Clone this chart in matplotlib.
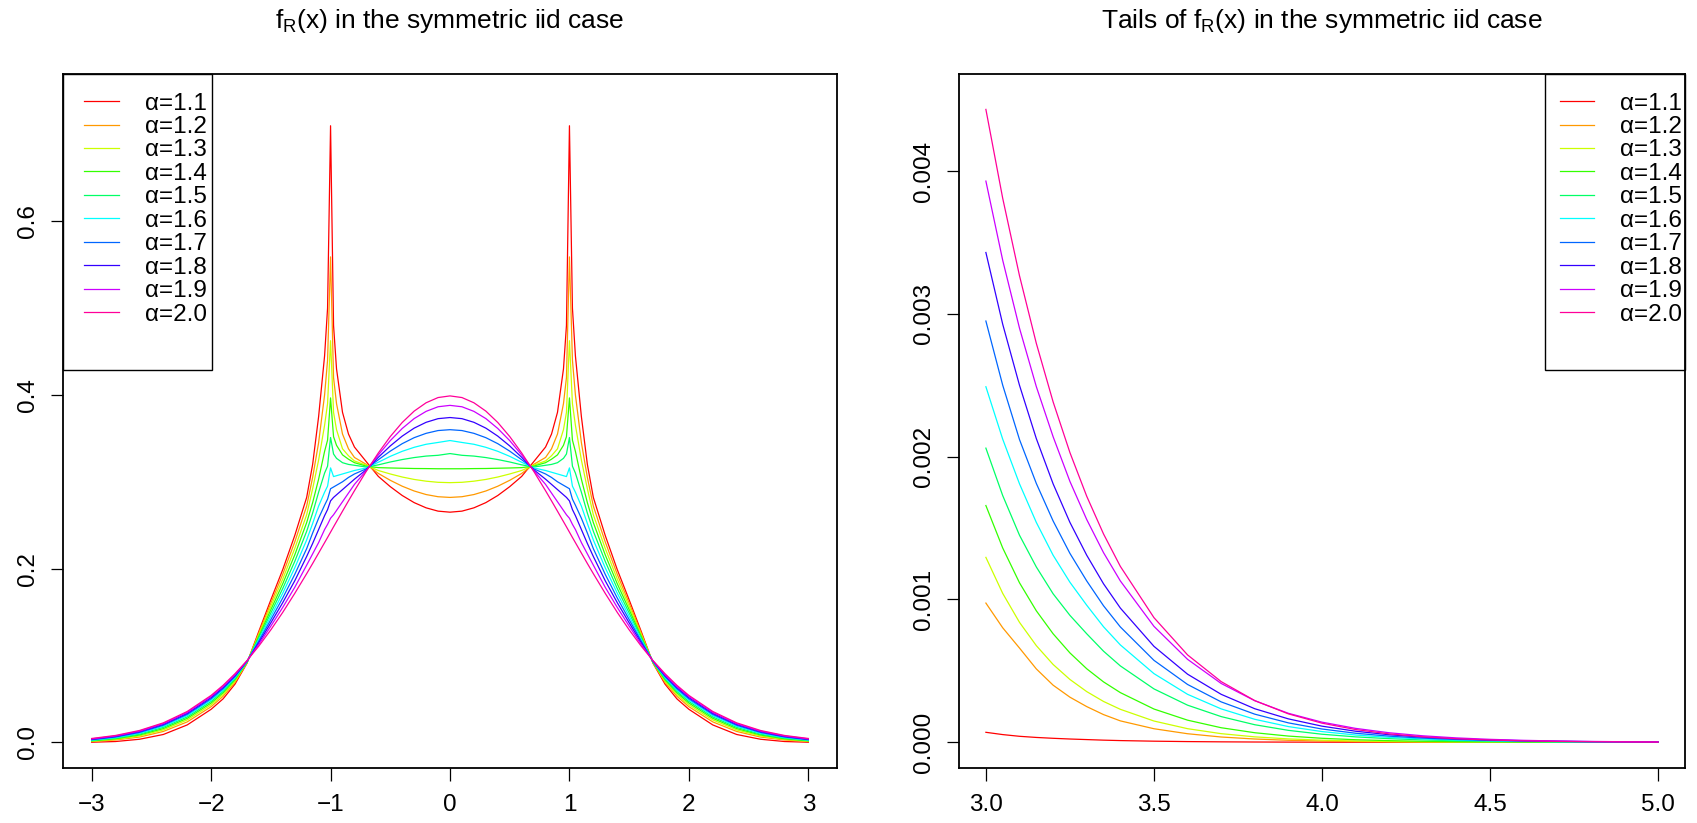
import matplotlib
matplotlib.use("Agg")
import matplotlib.pyplot as plt
from matplotlib.patches import Rectangle

plt.rcParams['font.family'] = ['Liberation Sans', 'DejaVu Sans']
plt.rcParams['mathtext.fontset'] = 'custom'
plt.rcParams['mathtext.rm'] = 'Liberation Sans'
plt.rcParams['mathtext.it'] = 'Liberation Sans'

# alpha values and R rainbow(10) colours
alphas = ["1.1", "1.2", "1.3", "1.4", "1.5", "1.6", "1.7", "1.8", "1.9", "2.0"]
cores = ["#FF0000", "#FF9900", "#CCFF00", "#33FF00", "#00FF66",
         "#00FFFF", "#0066FF", "#3300FF", "#CC00FF", "#FF0099"]

# left panel: x >= 0 (curves are symmetric, mirrored below)
xs = [0, 0.1, 0.2, 0.3, 0.4, 0.5, 0.6, 0.7, 0.8, 0.85, 0.9, 0.95, 0.975, 1.0,
      1.025, 1.05, 1.1, 1.15, 1.2, 1.3, 1.4, 1.5, 1.6, 1.7, 1.8, 1.9, 2.0,
      2.2, 2.4, 2.6, 2.8, 3.0]

f11 = [0.265, 0.2662, 0.2700, 0.2760, 0.2842, 0.2944, 0.3062, 0.323, 0.340, 0.355, 0.380, 0.430, 0.480, 0.710,
       0.500, 0.445, 0.375, 0.320, 0.282, 0.238, 0.199, 0.164, 0.128, 0.091, 0.067, 0.050, 0.038,
       0.020, 0.009, 0.0035, 0.0009, 0.00007]
f12 = [0.282, 0.2828, 0.2853, 0.2894, 0.2949, 0.3017, 0.3096, 0.320, 0.328, 0.338, 0.355, 0.390, 0.420, 0.559,
       0.440, 0.400, 0.345, 0.305, 0.272, 0.2306, 0.1936, 0.1602, 0.1261, 0.0913, 0.069, 0.053, 0.041,
       0.0235, 0.0125, 0.006, 0.0027, 0.000975]
f13 = [0.299, 0.2994, 0.3007, 0.3027, 0.3055, 0.3090, 0.3130, 0.319, 0.324, 0.330, 0.338, 0.360, 0.380, 0.4625,
       0.390, 0.365, 0.325, 0.292, 0.262, 0.2231, 0.1881, 0.1565, 0.1242, 0.0917, 0.0705, 0.0550, 0.0432,
       0.0258, 0.0143, 0.0073, 0.0033, 0.0013]
f14 = [0.315, 0.315, 0.3152, 0.3153, 0.3156, 0.3159, 0.3163, 0.318, 0.322, 0.326, 0.331, 0.342, 0.352, 0.3966,
       0.348, 0.335, 0.303, 0.276, 0.253, 0.2157, 0.1827, 0.1527, 0.1223, 0.092, 0.072, 0.057, 0.0452,
       0.0276, 0.0158, 0.0084, 0.0040, 0.00166]
f15 = [0.3325, 0.3305, 0.3296, 0.3279, 0.3256, 0.3228, 0.3195, 0.317, 0.319, 0.320, 0.322, 0.327, 0.332, 0.351,
       0.318, 0.310, 0.288, 0.264, 0.243, 0.2082, 0.1772, 0.1489, 0.1204, 0.0923, 0.0732, 0.0586, 0.0470,
       0.0292, 0.0172, 0.0094, 0.0047, 0.00206]
f16 = [0.3475, 0.3453, 0.3432, 0.3397, 0.3351, 0.3293, 0.3225, 0.316, 0.313, 0.311, 0.309, 0.307, 0.306, 0.316,
       0.295, 0.288, 0.272, 0.252, 0.233, 0.2008, 0.1718, 0.1451, 0.1186, 0.0927, 0.0745, 0.0602, 0.0486,
       0.0307, 0.0184, 0.0104, 0.0054, 0.00249]
f17 = [0.360, 0.3590, 0.3558, 0.3508, 0.3439, 0.3353, 0.3254, 0.315, 0.309, 0.305, 0.300, 0.296, 0.294, 0.292,
       0.280, 0.273, 0.258, 0.241, 0.223, 0.1933, 0.1663, 0.1413, 0.1167, 0.093, 0.0757, 0.0617, 0.0501,
       0.0321, 0.0196, 0.0113, 0.0061, 0.00295]
f18 = [0.374, 0.3727, 0.3685, 0.3618, 0.3526, 0.3413, 0.3282, 0.314, 0.303, 0.297, 0.291, 0.285, 0.282, 0.278,
       0.268, 0.261, 0.245, 0.229, 0.214, 0.1859, 0.1609, 0.1376, 0.1148, 0.0933, 0.0768, 0.0630, 0.0515,
       0.0333, 0.0206, 0.0122, 0.0067, 0.00343]
f19 = [0.388, 0.3864, 0.3811, 0.3728, 0.3614, 0.3474, 0.3310, 0.313, 0.297, 0.287, 0.277, 0.267, 0.262, 0.258,
       0.251, 0.245, 0.230, 0.217, 0.204, 0.1784, 0.1554, 0.1338, 0.1129, 0.0937, 0.0779, 0.0643, 0.0528,
       0.0344, 0.0215, 0.0129, 0.0073, 0.00393]
f20 = [0.3989, 0.3970, 0.3910, 0.3814, 0.3683, 0.3521, 0.3332, 0.3123, 0.2897, 0.2780, 0.2661, 0.2541, 0.2481, 0.2420,
       0.2359, 0.2299, 0.2179, 0.2059, 0.1942, 0.1714, 0.1497, 0.1295, 0.1109, 0.0940, 0.0790, 0.0656, 0.0540,
       0.0355, 0.0224, 0.0136, 0.0079, 0.0044]

# right panel: tails from 3 to 5
xt = [3.0, 3.05, 3.1, 3.15, 3.2, 3.25, 3.3, 3.35, 3.4, 3.5, 3.6, 3.7, 3.8, 3.9, 4.0,
      4.1, 4.2, 4.3, 4.4, 4.5, 4.6, 4.7, 4.8, 4.9, 5.0]

t11 = [0.00007, 0.000054, 0.000042, 0.000034, 0.000028, 0.000023, 0.000019, 0.000015, 0.000012,
       0.0000078, 0.000005, 0.0000032, 0.000002, 0.0000013, 0.0000008,
       0.0000005, 0.0000003, 0.0000002, 0.0000001, 0.0000001, 0, 0, 0, 0, 0]
t12 = [0.000975, 0.000802, 0.00066, 0.000514, 0.0004, 0.000316, 0.00025, 0.000194, 0.00015,
       0.000095, 0.00006, 0.000037, 0.000023, 0.000014, 0.0000088,
       0.0000054, 0.0000033, 0.000002, 0.0000012, 0.0000007, 0.0000004, 0.0000002, 0.0000001, 0.0000001, 0]
t13 = [0.001295, 0.001043, 0.00084, 0.000677, 0.000545, 0.00044, 0.000355, 0.000286, 0.000231,
       0.000149, 0.0000953, 0.0000605, 0.0000381, 0.0000238, 0.0000148,
       0.0000091, 0.0000056, 0.0000034, 0.0000021, 0.0000013, 0.0000008, 0.0000005, 0.0000003, 0.0000002, 0.0000001]
t14 = [0.001658, 0.001361, 0.001117, 0.000921, 0.00076, 0.000626, 0.000515, 0.000423, 0.000348,
       0.000233, 0.000155, 0.000102, 0.000067, 0.0000436, 0.0000281,
       0.000018, 0.0000115, 0.0000073, 0.0000046, 0.0000029, 0.0000018, 0.0000011, 0.0000007, 0.0000004, 0.0000003]
t15 = [0.00206, 0.001728, 0.00145, 0.001228, 0.00104, 0.000889, 0.00076, 0.000638, 0.000535,
       0.000374, 0.00026, 0.00018, 0.000123, 0.0000836, 0.0000565,
       0.000038, 0.0000254, 0.0000169, 0.0000111, 0.0000073, 0.0000048, 0.0000031, 0.000002, 0.0000013, 0.0000008]
t16 = [0.00249, 0.002123, 0.00181, 0.00154, 0.00131, 0.001121, 0.00096, 0.000809, 0.000682,
       0.000481, 0.000336, 0.000234, 0.000161, 0.00011, 0.000075,
       0.000051, 0.0000344, 0.000023, 0.0000154, 0.0000102, 0.0000067, 0.0000044, 0.0000029, 0.0000019, 0.0000012]
t17 = [0.00295, 0.002501, 0.00212, 0.001813, 0.00155, 0.001323, 0.00113, 0.000956, 0.000808,
       0.000574, 0.000405, 0.000283, 0.000197, 0.000136, 0.000093,
       0.0000634, 0.000043, 0.000029, 0.0000195, 0.000013, 0.0000087, 0.0000058, 0.0000038, 0.0000025, 0.0000016]
t18 = [0.00343, 0.002928, 0.0025, 0.002127, 0.00181, 0.00154, 0.00131, 0.00111, 0.00094,
       0.000672, 0.000477, 0.000336, 0.000235, 0.000164, 0.000113,
       0.0000775, 0.0000529, 0.000036, 0.0000244, 0.0000164, 0.000011, 0.0000073, 0.0000049, 0.0000032, 0.0000021]
t19 = [0.00393, 0.003376, 0.0029, 0.002491, 0.00214, 0.001827, 0.00156, 0.001328, 0.00113,
       0.000812, 0.000581, 0.000412, 0.000291, 0.000203, 0.000141,
       0.0000975, 0.0000668, 0.0000455, 0.0000308, 0.0000207, 0.0000138, 0.0000092, 0.0000061, 0.000004, 0.0000026]
t20 = [0.004432, 0.00381, 0.003267, 0.002794, 0.002384, 0.002029, 0.001723, 0.001459, 0.001232,
       0.000873, 0.000612, 0.000425, 0.000292, 0.000199, 0.000134,
       0.0000893, 0.0000589, 0.0000385, 0.0000249, 0.000016, 0.0000101, 0.0000064, 0.000004, 0.0000024, 0.0000015]

dens = [f11, f12, f13, f14, f15, f16, f17, f18, f19, f20]
caudas = [t11, t12, t13, t14, t15, t16, t17, t18, t19, t20]

FS = 17.5
FS_TIT = 19


def estilo_r(ax, xticks, xlabels, yticks, ylabels):
    ax.set_xticks(xticks)
    ax.set_xticklabels(xlabels)
    ax.set_yticks(yticks)
    ax.set_yticklabels(ylabels, rotation=90, va='center')
    ax.tick_params(direction='out', length=9, width=0.9, labelsize=FS)
    ax.tick_params(axis='x', pad=10)
    ax.tick_params(axis='y', pad=8)
    for s in ax.spines.values():
        s.set_linewidth(1.3)


def legenda(ax, x_linha, x_caixa, larg_caixa):
    # box drawn by hand so the padding can be uneven, like R's legend()
    ax.legend(loc='upper left', bbox_to_anchor=(x_linha, 0.9733), fontsize=FS, frameon=False,
              borderaxespad=0, borderpad=0, handlelength=1.42, handletextpad=1.07,
              labelspacing=0.06)
    ax.add_patch(Rectangle((x_caixa, 0.5735), larg_caixa, 1 - 0.5735, transform=ax.transAxes,
                           fill=False, edgecolor='black', lw=1.0, zorder=5, clip_on=False))


fig = plt.figure(figsize=(16.97, 8.23), dpi=100)
ax1 = fig.add_axes([63 / 1697, 55 / 823, 774 / 1697, 694 / 823])
ax2 = fig.add_axes([959 / 1697, 55 / 823, 726 / 1697, 694 / 823])

xx = [-v for v in xs[::-1]] + xs[1:]
for a, c, f in zip(alphas, cores, dens):
    yy = f[::-1] + f[1:]
    ax1.plot(xx, yy, color=c, lw=0.9, label="\u03b1=" + a)
ax1.set_xlim(-3.24, 3.24)
ax1.set_ylim(-0.0296, 0.7696)
estilo_r(ax1, [-3, -2, -1, 0, 1, 2, 3], ["\u22123", "\u22122", "\u22121", "0", "1", "2", "3"],
         [0.0, 0.2, 0.4, 0.6], ["0.0", "0.2", "0.4", "0.6"])
ax1.set_title(r"$\mathrm{f_R(x)}$ in the symmetric iid case", fontsize=FS_TIT, pad=33)
legenda(ax1, 0.0277, 0.0, 0.1925)

for a, c, t in zip(alphas, cores, caudas):
    ax2.plot(xt, t, color=c, lw=0.9, label="\u03b1=" + a)
ax2.set_xlim(2.92, 5.08)
ax2.set_ylim(-0.00018, 0.00468)
estilo_r(ax2, [3.0, 3.5, 4.0, 4.5, 5.0], ["3.0", "3.5", "4.0", "4.5", "5.0"],
         [0.0, 0.001, 0.002, 0.003, 0.004], ["0.000", "0.001", "0.002", "0.003", "0.004"])
ax2.set_title(r"Tails of $\mathrm{f_R(x)}$ in the symmetric iid case", fontsize=FS_TIT, pad=33)
legenda(ax2, 0.8273, 0.8078, 1 - 0.8078)

fig.savefig("out.png", dpi=100)
